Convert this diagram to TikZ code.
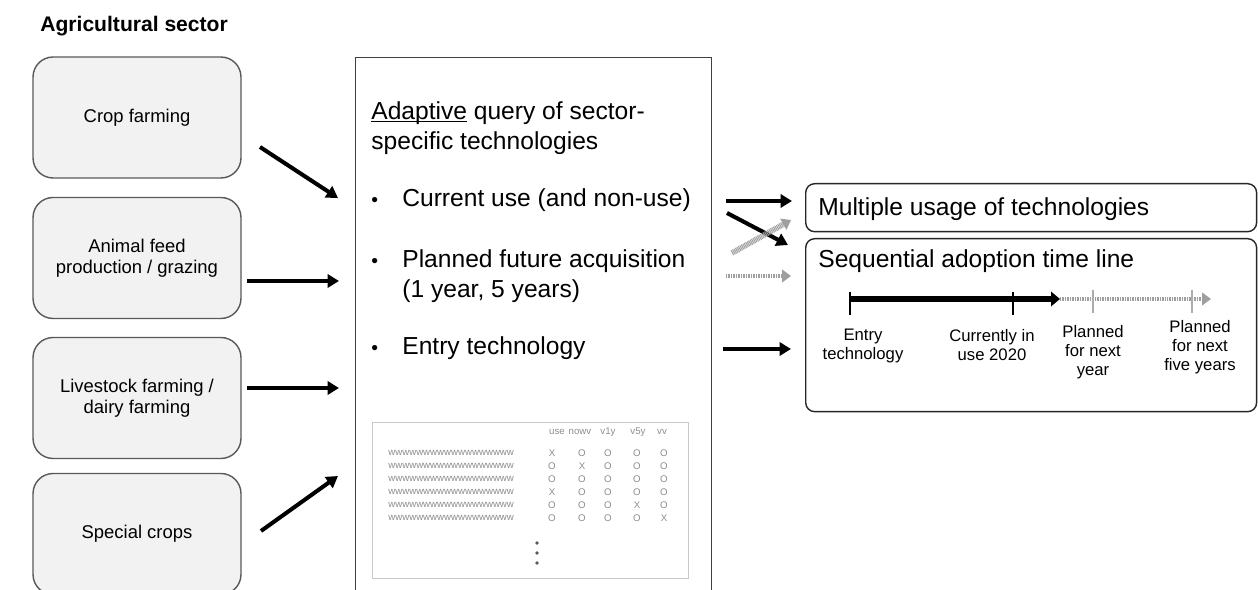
\documentclass[tikz,border=0pt]{standalone}
\usepackage{fontspec}
\setmainfont{Liberation Sans}
\usetikzlibrary{positioning,arrows.meta}

\definecolor{boxfill}{HTML}{F2F2F2}
\definecolor{boxline}{HTML}{595959}
\definecolor{tabline}{HTML}{C8C8C8}
\definecolor{tabtext}{HTML}{8C8C8C}

% underline that sits close to the baseline
\newcommand\lowline[1]{\setbox0\hbox{#1}\rlap{\rule[-1.8pt]{\wd0}{0.7pt}}#1}

\begin{document}
\begin{tikzpicture}[
  x=0.02cm, y=-0.02cm,
  sector/.style={draw=boxline, fill=boxfill, rounded corners=0.4cm, line width=0.8pt,
    minimum width=4.16cm, minimum height=2.42cm, align=center,
    font=\fontsize{10.5}{12}\selectfont},
  result/.style={draw=black!85, rounded corners=0.18cm, line width=0.8pt,
    anchor=north west, minimum width=9.02cm, inner sep=0pt},
  big/.style={font=\fontsize{14}{17}\selectfont, inner sep=0pt, align=left},
  bul/.style={font=\fontsize{11}{12}\selectfont, anchor=base west, inner sep=0pt},
  tick/.style={font=\fontsize{9.5}{10.8}\selectfont, align=center, inner sep=0pt, anchor=north},
  cell/.style={font=\fontsize{5.5}{6}\selectfont, text=tabtext, inner sep=0pt},
  bold/.style={-{Triangle[length=6.5pt,width=7.5pt]}, line width=2.3pt},
  faded/.style={-{Triangle[length=5pt,width=7pt]}, line width=2.8pt, draw=gray!75,
    fill=gray!50, dash pattern=on 0.55pt off 0.4pt},
  >=Latex
]
\useasboundingbox (0,0) rectangle (1258,590);

\node[font=\bfseries\fontsize{12}{14}\selectfont, anchor=base west, inner sep=0pt]
  (title) at (40,32) {Agricultural sector};

% sectors on the left
\node[sector] (crop) at (137,117.5) {Crop farming};
\node[sector] (feed) at (137,258) {Animal feed\\production / grazing};
\node[sector] (stock) at (137,398) {Livestock farming /\\dairy farming};
\node[sector] (special) at (137,534) {Special crops};

% query box in the middle
\node[draw=black!75, line width=0.8pt, minimum width=7.12cm, minimum height=11.3cm,
  anchor=north west, inner sep=0pt] (query) at (355,57) {};

\node[big, anchor=north west] (head) at (371,101)
  {\lowline{Adaptive} query of sector-\\specific technologies};
\node[bul] (dot1) at (371,207) {•};
\node[big, anchor=base west] (use) at (402,207) {Current use (and non-use)};
\node[bul] (dot2) at (371,268) {•};
\node[big, anchor=north west] (plan) at (402,249) {Planned future acquisition\\(1 year, 5 years)};
\node[bul] (dot3) at (371,355) {•};
\node[big, anchor=base west] (entry) at (402,355) {Entry technology};

% sample of the question table
\node[draw=tabline, line width=0.6pt, minimum width=6.32cm, minimum height=3.12cm,
  anchor=north west, inner sep=0pt] (table) at (372,422) {};
\foreach \x/\t in {557/use, 580/nowv, 608/v1y, 638/v5y, 662/vv}
  \node[cell] (hd-\t) at (\x,432) {\t};
\foreach \y/\k [count=\r] in {453/1, 466/2, 479/0, 492/1, 505/4, 518/5} {
  \node[cell, anchor=west] (row-\r) at (388,\y) {wwwwwwwwwwwwwwwwww};
  \foreach \x [count=\c] in {552,582,608,637,664}
    \node[cell] (m-\r-\c) at (\x,\y) {\ifnum\c=\k X\else O\fi};
}
\foreach \y [count=\i] in {543,553,563}
  \node[circle, fill=black!65, inner sep=0.75pt] (more-\i) at (537,\y) {};

% result boxes on the right
\node[result, minimum height=0.96cm] (multi) at (805,183) {};
\node[big, anchor=base west] (multi-txt) at (818,216) {Multiple usage of technologies};
\node[result, minimum height=3.46cm] (seq) at (805,238) {};
\node[big, anchor=base west] (seq-txt) at (818,268) {Sequential adoption time line};

% time line
\coordinate (t0) at (850,299);
\coordinate (t1) at (1013,299);
\coordinate (tnow) at (1060,299);
\coordinate (t2) at (1093,299);
\coordinate (t3) at (1192,299);
\coordinate (tend) at (1211,299);
\draw[faded] (tnow) -- (tend);
\draw[-{Triangle[length=5pt,width=8pt]}, line width=3pt] (t0) -- (tnow);
\draw[line width=1.2pt] (t0) ++(0,-7) -- ++(0,23);
\draw[line width=1.2pt] (t1) ++(0,-7) -- ++(0,23);
\draw[line width=1.2pt, gray!65] (t2) ++(0,-9) -- ++(0,23);
\draw[line width=1.2pt, gray!65] (t3) ++(0,-9) -- ++(0,23);

\node[tick] (lab0) at (863,329) {Entry\\technology};
\node[tick] (lab1) at (992,329) {Currently in\\use 2020};
\node[tick] (lab2) at (1093,325) {Planned\\for next\\year};
\node[tick] (lab3) at (1200,320) {Planned\\for next\\five years};

% arrows into the query
\coordinate (crop-a) at (260,147);   \coordinate (crop-b) at (338,198);
\coordinate (feed-a) at (247,281);   \coordinate (feed-b) at (339,281);
\coordinate (stock-a) at (247,388);  \coordinate (stock-b) at (339,388);
\coordinate (special-a) at (261,531);\coordinate (special-b) at (338,476);
\draw[bold] (crop-a) -- (crop-b);
\draw[bold] (feed-a) -- (feed-b);
\draw[bold] (stock-a) -- (stock-b);
\draw[bold] (special-a) -- (special-b);

% arrows out of the query
\coordinate (out1-a) at (726,201);  \coordinate (out1-b) at (792,201);
\coordinate (out2-a) at (727,213);  \coordinate (out2-b) at (788,245);
\coordinate (out3-a) at (732,253);  \coordinate (out3-b) at (791,220);
\coordinate (out4-a) at (726,276);  \coordinate (out4-b) at (791,276);
\coordinate (out5-a) at (723,349);  \coordinate (out5-b) at (791,349);
\draw[bold] (out1-a) -- (out1-b);
\draw[bold] (out2-a) -- (out2-b);
\draw[faded, line width=3.2pt] (out3-a) -- (out3-b);
\draw[faded] (out4-a) -- (out4-b);
\draw[bold] (out5-a) -- (out5-b);
\end{tikzpicture}
\end{document}
